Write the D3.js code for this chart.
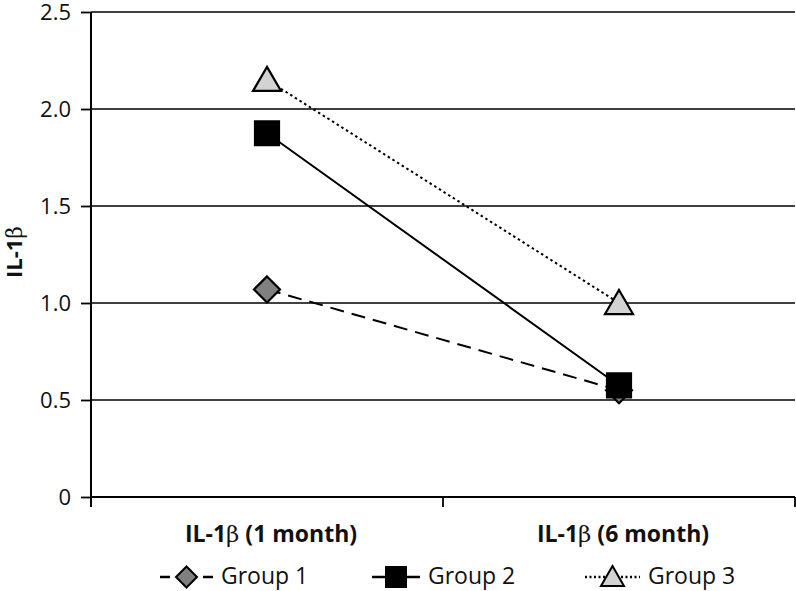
<!DOCTYPE html>
<html><head><meta charset="utf-8">
<script src="https://cdn.jsdelivr.net/npm/d3@7"></script>
<style>body{margin:0;background:#fff}svg{display:block;font-family:"Open Sans",sans-serif}</style>
</head><body>
<svg id="c" width="796" height="591"></svg>
<script>
const categories = ["1 month", "6 month"];
const group1 = [1.07, 0.55];
const group2 = [1.875, 0.575];
const group3 = [2.15, 1.0];
const seriesNames = ["Group 1", "Group 2", "Group 3"];
const yTicks = [0, 0.5, 1.0, 1.5, 2.0, 2.5];

const series = [
  {name: seriesNames[0], values: group1, dash: "14,8", marker: "diamond", fill: "#808080", legDash: "10,33"},
  {name: seriesNames[1], values: group2, dash: null, marker: "square", fill: "#000", legDash: null},
  {name: seriesNames[2], values: group3, dash: "2.5,3", marker: "triangle", fill: "#d3d3d3", legDash: "2,2.5"}
];

const svg = d3.select("#c");
const L = 91, R = 795, T = 12, B = 497;
const x = d3.scaleBand().domain(categories).range([L, R]).padding(0);
const y = d3.scaleLinear().domain([0, 2.5]).range([B, T]);
const cx = c => x(c) + x.bandwidth() / 2;

// gridlines
svg.append("g").selectAll("line").data(yTicks.filter(d => d > 0)).join("line")
  .attr("x1", L).attr("x2", R).attr("y1", d => y(d)).attr("y2", d => y(d))
  .attr("stroke", "#000").attr("stroke-width", 1.6);

// y axis
const ya = svg.append("g").attr("transform", `translate(${L},0)`)
  .call(d3.axisLeft(y).tickValues(yTicks).tickSize(10).tickPadding(10)
    .tickFormat(d => d === 0 ? "0" : d3.format(".1f")(d)));
ya.select(".domain").attr("stroke-width", 2).attr("d", `M0,${T}V${B + 10}`);
ya.selectAll(".tick line").attr("stroke-width", 1.8);
ya.selectAll(".tick text").attr("font-size", 22).attr("fill", "#111").attr("font-family", "Open Sans");

// x axis
const xa = svg.append("g").attr("transform", `translate(0,${B})`)
  .call(d3.axisBottom(x).tickSize(0).tickFormat(""));
xa.select(".domain").attr("stroke-width", 2).attr("d", `M${L},0H${R}`);
const bounds = categories.map(c => x(c)).concat([x(categories[categories.length - 1]) + x.bandwidth()]);
xa.selectAll(".bnd").data(bounds).join("line").attr("class", "bnd")
  .attr("x1", d => d).attr("x2", d => d).attr("y1", 0).attr("y2", 10)
  .attr("stroke", "#000").attr("stroke-width", 1.8);

// category labels
const cl = svg.append("g").selectAll("text").data(categories).join("text")
  .attr("x", d => cx(d) + 4).attr("y", 542).attr("text-anchor", "middle")
  .attr("font-size", 23).attr("font-weight", "bold").attr("fill", "#111");
cl.append("tspan").text("IL-1");
cl.append("tspan").attr("font-weight", "normal").attr("font-family", "DejaVu Serif").text("β");
cl.append("tspan").text(d => " (" + d + ")");

// y label
const yl = svg.append("text").attr("transform", "translate(22,252) rotate(-90)")
  .attr("text-anchor", "middle").attr("font-size", 22).attr("font-weight", "bold").attr("fill", "#111");
yl.append("tspan").text("IL-1");
yl.append("tspan").attr("font-weight", "normal").attr("font-family", "DejaVu Serif").text("β");

function markerPath(type, s) {
  const h = s / 2;
  if (type === "diamond") return `M0,${-h}L${h},0L0,${h}L${-h},0Z`;
  if (type === "square") return `M${-h},${-h}H${h}V${h}H${-h}Z`;
  const th = s * 0.85;
  return `M0,${-th / 2 - 2}L${h + 1},${th / 2}L${-h - 1},${th / 2}Z`;
}

const line = d3.line().x(d => cx(d.c)).y(d => y(d.v));
series.forEach(s => {
  const pts = categories.map((c, i) => ({c, v: s.values[i]}));
  svg.append("path").datum(pts).attr("d", line).attr("fill", "none")
    .attr("stroke", "#000").attr("stroke-width", 2)
    .attr("stroke-dasharray", s.dash);
});
series.forEach(s => {
  const pts = categories.map((c, i) => ({c, v: s.values[i]}));
  svg.append("g").selectAll("path").data(pts).join("path")
    .attr("transform", d => `translate(${cx(d.c)},${y(d.v)})`)
    .attr("d", markerPath(s.marker, s.marker === "square" ? 24 : 26))
    .attr("fill", s.fill).attr("stroke", "#000").attr("stroke-width", 2.2)
    .attr("stroke-linejoin", "miter");
});

// legend
const legX = [160, 372, 585];
const legW = [53, 48, 55];
const leg = svg.append("g");
series.forEach((s, i) => {
  const g = leg.append("g").attr("transform", `translate(${legX[i]},577)`);
  const w = legW[i];
  g.append("line").attr("x1", 0).attr("x2", w).attr("stroke", "#000").attr("stroke-width", 2.5)
    .attr("stroke-dasharray", s.legDash);
  g.append("path").attr("transform", `translate(${w / 2},0)`)
    .attr("d", markerPath(s.marker, s.marker === "square" ? 20 : 21))
    .attr("fill", s.fill).attr("stroke", "#000").attr("stroke-width", 2);
  g.append("text").attr("x", w + 8).attr("y", 7).attr("font-size", 23).attr("fill", "#111").text(s.name);
});
</script>
</body></html>
